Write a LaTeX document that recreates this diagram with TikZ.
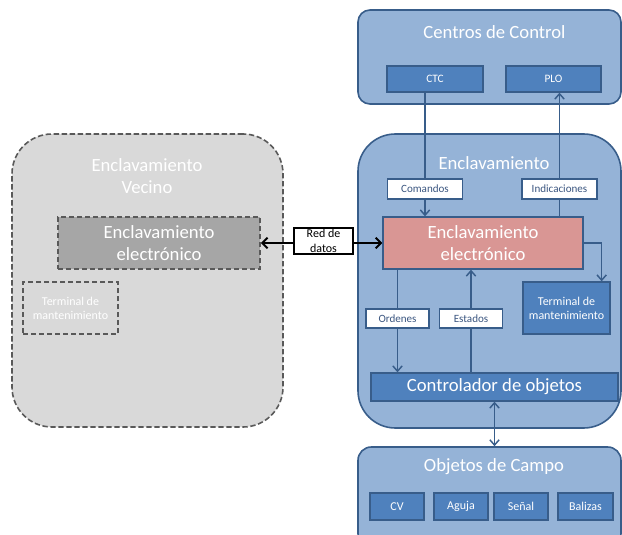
\documentclass[tikz,border=0pt]{standalone}
\usepackage{fontspec}
\setmainfont{Carlito}
\usetikzlibrary{arrows.meta,calc}
\pgfdeclarelayer{back}
\pgfdeclarelayer{mid}
\pgfsetlayers{back,mid,main}
\definecolor{bigblue}{HTML}{95B3D7}
\definecolor{midblue}{HTML}{4F81BD}
\definecolor{edgeblue}{HTML}{385D8A}
\definecolor{pinkbox}{HTML}{D99694}
\definecolor{lgray}{HTML}{D9D9D9}
\definecolor{mgray}{HTML}{A6A6A6}
\definecolor{dgray}{HTML}{595959}
\definecolor{labeltext}{HTML}{3B5680}
\begin{document}
\begin{tikzpicture}[x=0.75pt,y=-0.75pt,
  sz/.style 2 args={minimum width=#1*0.75pt, minimum height=#2*0.75pt},
  groupbox/.style={draw=edgeblue, line width=1.2pt, fill=bigblue, rounded corners=#1, inner sep=0pt},
  bluebox/.style={draw=edgeblue, line width=1pt, fill=midblue, inner sep=0pt, text=white, align=center},
  labelbox/.style={draw=edgeblue, line width=1pt, fill=white, inner sep=0pt, text=labeltext, font=\fontsize{8.3}{10}\selectfont},
  titletext/.style={text=white, align=center, font=\fontsize{14}{16.5}\selectfont, inner sep=0pt},
  smalltext/.style={font=\fontsize{8.5}{10}\selectfont},
  fieldtext/.style={font=\fontsize{9}{10.5}\selectfont},
  graybox/.style={draw=dgray, line width=1.2pt, dash pattern=on 4pt off 2pt, inner sep=0pt, text=white, align=center},
  conn/.style={draw=edgeblue, line width=1.1pt, -{Straight Barb[length=4pt,width=7pt]}},
  dconn/.style={draw=edgeblue, line width=1.1pt, {Straight Barb[length=4pt,width=7pt]}-{Straight Barb[length=4pt,width=7pt]}},
  netconn/.style={draw=black, line width=1.5pt, {Straight Barb[length=4pt,width=8pt]}-{Straight Barb[length=4pt,width=8pt]}}
]
\useasboundingbox (0,0) rectangle (622,535);

% group containers
\begin{pgfonlayer}{back}
\node[groupbox=9pt, sz={263}{94}] (centros) at (489.5,57) {};
\node[groupbox=28pt, sz={263}{294}] (encl) at (489.5,281) {};
\node[groupbox=10pt, sz={263}{100}] (objetos) at (489.5,497) {};
\node[graybox, fill=lgray, rounded corners=30pt, sz={271}{293}] (vecino) at (147.5,280.5) {};
\end{pgfonlayer}

\node[titletext] (centrostitle) at (494.5,32) {Centros de Control};
\node[titletext] (encltitle) at (494,163) {Enclavamiento};
\node[titletext] (objtitle) at (494,467) {Objetos de Campo};
\node[titletext] (vecinotitle) at (147,176) {Enclavamiento\\Vecino};

% inner boxes
\node[bluebox, smalltext, sz={96}{26}] (ctc) at (435,79) {CTC};
\node[bluebox, smalltext, sz={95}{26}] (plo) at (553.5,79) {PLO};
\node[bluebox, draw=edgeblue, fill=pinkbox, font=\fontsize{14}{16.5}\selectfont, sz={200}{52}] (pink) at (483,243) {Enclavamiento\\electrónico};
\node[bluebox, fieldtext, sz={87}{52}] (term) at (566.5,308) {Terminal de\\mantenimiento};
\node[bluebox, font=\fontsize{14}{16.5}\selectfont, sz={247}{28}] (contr) at (494.5,387) {Controlador de objetos};
\node[bluebox, fieldtext, sz={54}{27}] (cv) at (397,506.5) {CV};
\node[bluebox, fieldtext, sz={54}{27}] (aguja) at (461,506.5) {Aguja};
\node[bluebox, fieldtext, sz={54}{27}] (senal) at (521,506.5) {Señal};
\node[bluebox, fieldtext, sz={55}{27}] (balizas) at (585.5,506.5) {Balizas};

\node[graybox, fill=mgray, font=\fontsize{14}{16.5}\selectfont, sz={202}{52}] (vinner) at (159,243) {Enclavamiento\\electrónico};
\node[graybox, fill=lgray, fieldtext, sz={95}{52}] (vterm) at (70.5,308) {Terminal de\\mantenimiento};

% label boxes
\node[labelbox, sz={75}{20}] (comandos) at (425,189) {Comandos};
\node[labelbox, sz={75}{20}] (indic) at (559.5,189) {Indicaciones};
\node[labelbox, sz={63}{19}] (ordenes) at (397.5,318.5) {Ordenes};
\node[labelbox, sz={63}{19}] (estados) at (471,318.5) {Estados};
\node[draw=black, line width=1pt, fill=white, inner sep=0pt, align=center, font=\fontsize{9}{11}\selectfont, sz={59}{26}] (red) at (323.5,241) {Red de\\datos};

% connectors
\begin{pgfonlayer}{mid}
\draw[conn] (ctc.south -| comandos) -- (pink.north -| comandos);
\draw[conn] (pink.north -| indic) -- (plo.south -| indic);
\coordinate (termjoin) at ($(term.north east)+(-9,0)$);
\draw[conn] (pink.east) -| (termjoin);
\draw[conn] (pink.south -| ordenes) -- (contr.north -| ordenes);
\draw[conn] (contr.north -| estados) -- (pink.south -| estados);
\draw[dconn] (contr.south) -- (contr.south |- objetos.north);
\draw[netconn] (vinner.east) -- (pink.west);
\end{pgfonlayer}
\end{tikzpicture}
\end{document}
